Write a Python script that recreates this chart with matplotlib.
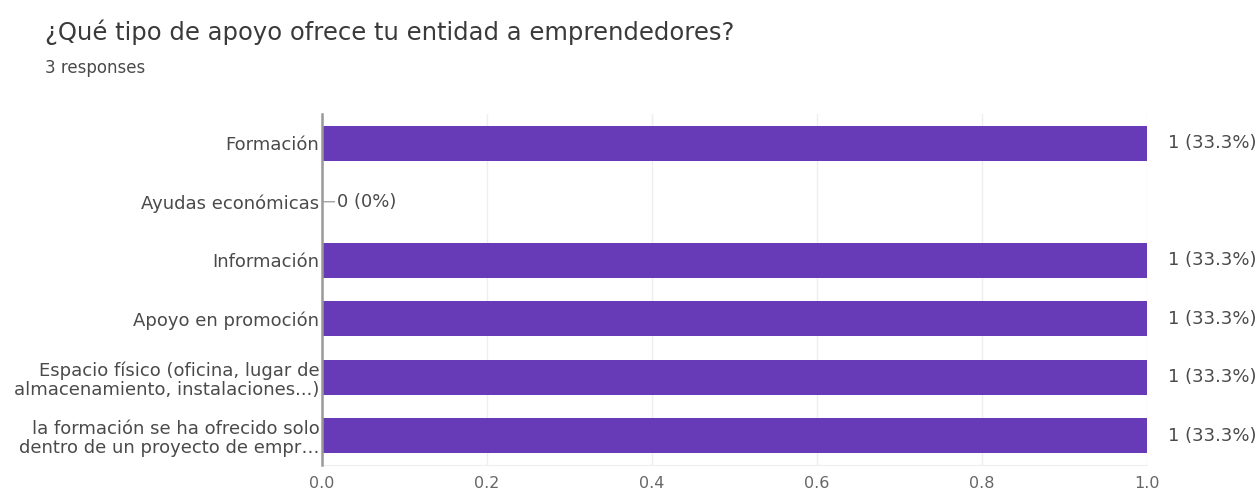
import matplotlib
matplotlib.use("Agg")
import matplotlib.pyplot as plt

plt.rcParams['font.family'] = ['DejaVu Sans']

categories = [
    "Formación",
    "Ayudas económicas",
    "Información",
    "Apoyo en promoción",
    "Espacio físico (oficina, lugar de\nalmacenamiento, instalaciones...)",
    "la formación se ha ofrecido solo\ndentro de un proyecto de empr…",
]
values = [1, 0, 1, 1, 1, 1]
labels = ["1 (33.3%)", "0 (0%)", "1 (33.3%)", "1 (33.3%)", "1 (33.3%)", "1 (33.3%)"]
xticks = [0.0, 0.2, 0.4, 0.6, 0.8, 1.0]

bar_color = "#673ab7"
FS = 13

fig = plt.figure(figsize=(12.6, 4.95), dpi=100)
ax = fig.add_axes([0.2556, 0.0606, 0.9103 - 0.2556, 0.7697 - 0.0606])

ypos = list(range(len(categories)))
ax.barh(ypos, values, height=0.6, color=bar_color, zorder=3)
ax.set_ylim(len(categories) - 0.5, -0.5)
ax.set_xlim(0, 1.0)
ax.set_yticks(ypos)
ax.set_yticklabels(categories, fontsize=FS, color="#4a4a4a", linespacing=1.1)
ax.set_xticks(xticks)
ax.set_xticklabels([f"{t:.1f}" for t in xticks], fontsize=11.5, color="#666666")
ax.tick_params(axis='both', length=0)
ax.tick_params(axis='y', pad=2)
ax.tick_params(axis='x', pad=8)

ax.grid(axis='x', color="#eeeeee", lw=1, zorder=0)
for s in ['top', 'right']:
    ax.spines[s].set_visible(False)
ax.spines['bottom'].set_color("#eeeeee")
ax.spines['left'].set_color("#999999")
ax.spines['left'].set_linewidth(1.8)
ax.spines['left'].set_zorder(4)

for y, v, lab in zip(ypos, values, labels):
    if v == 0:
        ax.annotate(lab, xy=(v, y), xytext=(11, 0), textcoords='offset points',
                    va='center', ha='left', fontsize=FS, color="#4a4a4a",
                    arrowprops=dict(arrowstyle='-', color="#999999", lw=0.9,
                                    shrinkA=0, shrinkB=1))
    else:
        ax.annotate(lab, xy=(v, y), xytext=(15, 0), textcoords='offset points',
                    va='center', ha='left', fontsize=FS, color="#4a4a4a",
                    annotation_clip=False)

fig.text(45 / 1260, 1 - 32 / 495, "¿Qué tipo de apoyo ofrece tu entidad a emprendedores?",
         fontsize=17.5, color="#3a3a3a", va='center', ha='left')
fig.text(45 / 1260, 1 - 68 / 495, "3 responses", fontsize=12, color="#4a4a4a",
         va='center', ha='left')

fig.savefig("out.png", dpi=100, facecolor="white")
